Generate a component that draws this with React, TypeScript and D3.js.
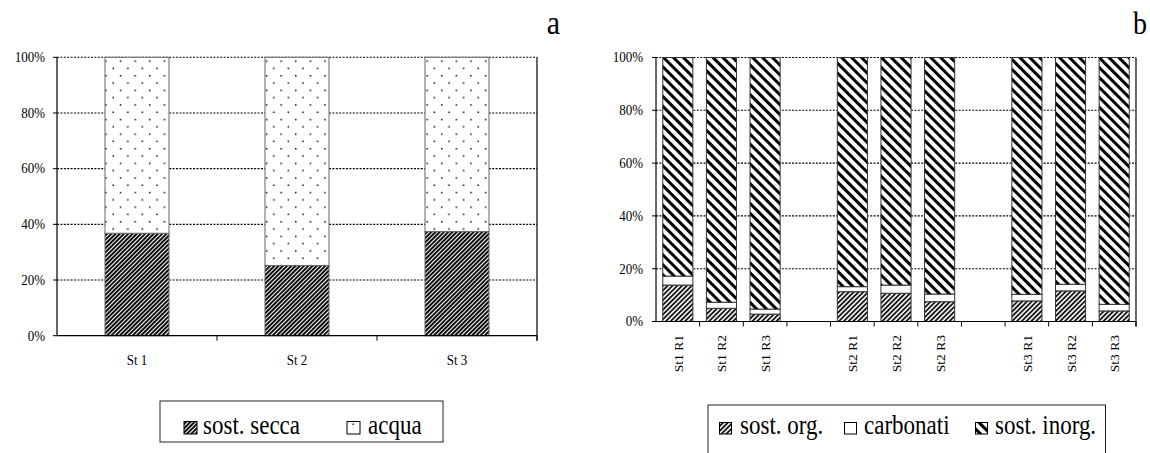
import React from "react";
import * as d3 from "d3";

// ---- Chart a data ----
const leftCategories = ["St 1", "St 2", "St 3"];
const sostSecca = [36.8, 25.2, 37.4];
const acqua = [63.2, 74.8, 62.6];

// ---- Chart b data ----
const rightCategories = ["St1 R1", "St1 R2", "St1 R3", "", "St2 R1", "St2 R2", "St2 R3", "", "St3 R1", "St3 R2", "St3 R3"];
const sostOrg = [13.8, 5.0, 2.8, 0, 11.3, 10.7, 7.5, 0, 7.8, 11.6, 4.0];
const carbonati = [3.4, 2.3, 1.9, 0, 1.9, 3.1, 2.9, 0, 2.5, 2.5, 2.5];
const sostInorg = [82.8, 92.7, 95.3, 0, 86.8, 86.2, 89.6, 0, 89.7, 85.9, 93.5];

const yTicks = [0, 20, 40, 60, 80, 100];
const tickLabels = ["0%", "20%", "40%", "60%", "80%", "100%"];

const FONT = "'Liberation Serif', 'Times New Roman', serif";

function SText({ x, y, size, sy, anchor, children }: any) {
  return (
    <g transform={`translate(${x},${y}) scale(1,${sy})`}>
      <text x={0} y={0} fontSize={size} fontFamily={FONT} textAnchor={anchor || "start"}>{children}</text>
    </g>
  );
}

function Patterns() {
  return (
    <defs>
      <pattern id="secca" width="3" height="3" patternUnits="userSpaceOnUse" patternTransform="rotate(45)">
        <rect width="3" height="3" fill="#fff" />
        <line x1="1" y1="0" x2="1" y2="3" stroke="#000" strokeWidth="1.9" />
      </pattern>
      <pattern id="acqua" width="14.6" height="14.6" patternUnits="userSpaceOnUse" x="3" y="2">
        <rect width="14.6" height="14.6" fill="#fff" />
        <rect x="0" y="0" width="1.5" height="1.5" fill="#111" />
        <rect x="7.3" y="7.3" width="1.5" height="1.5" fill="#111" />
      </pattern>
      <pattern id="org" width="3.4" height="3.4" patternUnits="userSpaceOnUse" patternTransform="rotate(45)">
        <rect width="3.4" height="3.4" fill="#fff" />
        <line x1="1" y1="0" x2="1" y2="3.4" stroke="#000" strokeWidth="1.7" />
      </pattern>
      <pattern id="inorg" width="7" height="7" patternUnits="userSpaceOnUse" patternTransform="rotate(-45)">
        <rect width="7" height="7" fill="#fff" />
        <line x1="1.5" y1="0" x2="1.5" y2="7" stroke="#000" strokeWidth="3" />
      </pattern>
    </defs>
  );
}

function ChartA() {
  const x0 = 57, x1 = 537;
  const y = d3.scaleLinear().domain([0, 100]).range([335.7, 57.3]);
  const x = d3.scaleBand<string>().domain(leftCategories).range([x0, x1]).paddingInner(0.6).paddingOuter(0.3);
  const band = (x1 - x0) / leftCategories.length;
  const rows = leftCategories.map((c, i) => ({ c, secca: sostSecca[i], acqua: acqua[i] }));
  const stack = d3.stack<any>().keys(["secca", "acqua"]).offset(d3.stackOffsetExpand);
  const series = stack(rows);
  const fills: Record<string, string> = { secca: "url(#secca)", acqua: "url(#acqua)" };
  return (
    <g>
      {yTicks.slice(1).map((t) => (
        <line key={t} x1={x0} x2={x1} y1={y(t)} y2={y(t)} stroke="#000" strokeWidth={1.1} strokeDasharray="2,1.4" />
      ))}
      {series.map((s) =>
        s.map((d, i) => (
          <rect key={s.key + i} x={x(leftCategories[i])} width={x.bandwidth()} y={y(d[1] * 100)} height={y(d[0] * 100) - y(d[1] * 100)}
            fill={fills[s.key]} stroke="#666" strokeWidth={1} />
        ))
      )}
      <line x1={x0} x2={x0} y1={y(100)} y2={y(0)} stroke="#000" strokeWidth={1.2} />
      <line x1={x1} x2={x1} y1={y(100)} y2={y(0) + 5} stroke="#000" strokeWidth={1.2} />
      <line x1={x0} x2={x1} y1={y(0)} y2={y(0)} stroke="#000" strokeWidth={1.2} />
      {yTicks.map((t, i) => (
        <g key={t}>
          <line x1={x0 - 4} x2={x0} y1={y(t)} y2={y(t)} stroke="#000" strokeWidth={1} />
          <SText x={45} y={y(t) + 4.8} size={13} sy={1.08} anchor="end">{tickLabels[i]}</SText>
        </g>
      ))}
      {leftCategories.map((c, i) => (
        <g key={c}>
          <line x1={x0 + band * (i + 1)} x2={x0 + band * (i + 1)} y1={y(0)} y2={y(0) + 5} stroke="#000" strokeWidth={1} />
          <SText x={(x(c) as number) + x.bandwidth() / 2} y={364.5} size={13} sy={1.08} anchor="middle">{c}</SText>
        </g>
      ))}
      <SText x={560} y={34} size={30} sy={1.13} anchor="end">a</SText>
      {/* legend */}
      <rect x={160} y={401} width={283} height={41} fill="#fff" stroke="#222" strokeWidth={1} />
      <rect x={184} y={421.5} width={13} height={12.5} fill="url(#secca)" stroke="#000" strokeWidth={1} />
      <SText x={203} y={433.5} size={23} sy={1.2}>sost. secca</SText>
      <rect x={347} y={421.5} width={13} height={12.5} fill="#fff" stroke="#000" strokeWidth={1} />
      <rect x={352.5} y={423.5} width={1.4} height={1.4} fill="#000" />
      <SText x={368} y={433.5} size={23} sy={1.2}>acqua</SText>
    </g>
  );
}

function ChartB() {
  const x0 = 656, x1 = 1136;
  const y = d3.scaleLinear().domain([0, 100]).range([321.5, 57.5]);
  const idx = rightCategories.map((_, i) => String(i));
  const x = d3.scaleBand<string>().domain(idx).range([x0, x1]).paddingInner(0.31).paddingOuter(0.155);
  const band = (x1 - x0) / rightCategories.length;
  const rows = rightCategories.map((c, i) => ({ i, org: sostOrg[i], carb: carbonati[i], inorg: sostInorg[i] }));
  const stack = d3.stack<any>().keys(["org", "carb", "inorg"]).offset(d3.stackOffsetExpand);
  const series = stack(rows);
  const fills: Record<string, string> = { org: "url(#org)", carb: "#fff", inorg: "url(#inorg)" };
  return (
    <g>
      {yTicks.slice(1).map((t) => (
        <line key={t} x1={x0} x2={x1} y1={y(t)} y2={y(t)} stroke="#000" strokeWidth={1.1} strokeDasharray="2,1.4" />
      ))}
      {series.map((s) =>
        s.map((d, i) =>
          rightCategories[i] === "" ? null : (
            <rect key={s.key + i} x={x(String(i))} width={x.bandwidth()} y={y(d[1] * 100)} height={y(d[0] * 100) - y(d[1] * 100)}
              fill={fills[s.key]} stroke="#333" strokeWidth={1} />
          )
        )
      )}
      <line x1={x0} x2={x0} y1={y(100)} y2={y(0)} stroke="#000" strokeWidth={1.2} />
      <line x1={x1} x2={x1} y1={y(100)} y2={y(0) + 5} stroke="#000" strokeWidth={1.2} />
      <line x1={x0} x2={x1} y1={y(0)} y2={y(0)} stroke="#000" strokeWidth={1.2} />
      {yTicks.map((t, i) => (
        <g key={t}>
          <line x1={x0 - 4} x2={x0} y1={y(t)} y2={y(t)} stroke="#000" strokeWidth={1} />
          <SText x={643} y={y(t) + 4.8} size={13} sy={1.08} anchor="end">{tickLabels[i]}</SText>
        </g>
      ))}
      {rightCategories.map((c, i) => (
        <g key={i}>
          <line x1={x0 + band * (i + 1)} x2={x0 + band * (i + 1)} y1={y(0)} y2={y(0) + 5} stroke="#000" strokeWidth={1} />
          {c && (
            <text transform={`translate(${(x(String(i)) as number) + x.bandwidth() / 2 + 5},335) rotate(-90)`} textAnchor="end" fontSize={13.5} fontFamily={FONT}>{c}</text>
          )}
        </g>
      ))}
      <SText x={1147} y={33.5} size={28} sy={1.15} anchor="end">b</SText>
      {/* legend */}
      <rect x={708} y={405} width={397.5} height={60} fill="#fff" stroke="#222" strokeWidth={1} />
      <rect x={719.5} y={422.5} width={12} height={11.5} fill="url(#org)" stroke="#000" strokeWidth={1} />
      <SText x={740} y={434} size={23} sy={1.2}>sost. org.</SText>
      <rect x={844.5} y={422.5} width={12} height={11.5} fill="#fff" stroke="#000" strokeWidth={1} />
      <SText x={864} y={434} size={23} sy={1.2}>carbonati</SText>
      <rect x={975.5} y={422.5} width={12} height={11.5} fill="url(#inorg)" stroke="#000" strokeWidth={1} />
      <SText x={995} y={434} size={23} sy={1.2}>sost. inorg.</SText>
    </g>
  );
}

export default function App() {
  return (
    <svg width={1150} height={453} style={{ position: "absolute", left: 0, top: 0, background: "#fff" }}>
      <Patterns />
      <rect width={1150} height={453} fill="#fff" />
      <ChartA />
      <ChartB />
    </svg>
  );
}
